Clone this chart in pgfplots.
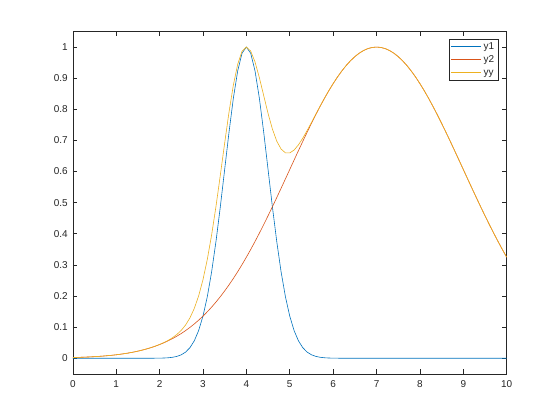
\documentclass[border=0pt]{standalone}
\usepackage{pgfplots}
\usepackage{pgfplotstable}
\pgfplotsset{compat=1.18}
\usepackage{fontspec}
\setmainfont{Liberation Sans}
\definecolor{mblue}{rgb}{0,0.447,0.741}
\definecolor{mred}{rgb}{0.85,0.325,0.098}
\definecolor{myellow}{rgb}{0.929,0.694,0.125}
\definecolor{mgray}{rgb}{0.15,0.15,0.15}
\pgfplotstableread{
x y1 y2 yy
0.0 0 0.002187 0.002187
0.1 0 0.002602 0.002602
0.2 0 0.003089 0.003089
0.3 0 0.003659 0.003659
0.4 0 0.004321 0.004321
0.5 0 0.005091 0.005091
0.6 0 0.005977 0.005977
0.7 0 0.007005 0.007005
0.8 0 0.008188 0.008188
0.9 0 0.009550 0.009550
1.0 0 0.011109 0.011109
1.1 0 0.012894 0.012894
1.2 0 0.014925 0.014925
1.3 0 0.017233 0.017233
1.4 0 0.019841 0.019841
1.5 0 0.022794 0.022794
1.6 0.00001 0.026126 0.026136
1.7 0.0000254 0.029862 0.029887
1.8 0.0000627 0.034047 0.034108
1.9 0.000148 0.038721 0.038863
2.0 0.000335 0.043937 0.044257
2.1 0.00073 0.049726 0.050420
2.2 0.00153 0.056135 0.057579
2.3 0.00309 0.063214 0.066109
2.4 0.00598 0.071003 0.076558
2.5 0.0111 0.079560 0.089777
2.6 0.0198 0.088922 0.106961
2.7 0.0340 0.099136 0.129765
2.8 0.0561 0.110251 0.160166
2.9 0.0889 0.122300 0.200327
3.0 0.1353 0.135335 0.252324
3.1 0.1979 0.149366 0.317706
3.2 0.2780 0.164446 0.396730
3.3 0.3753 0.180608 0.488126
3.4 0.4868 0.197899 0.588362
3.5 0.6065 0.216265 0.691600
3.6 0.7261 0.235746 0.790671
3.7 0.8353 0.256340 0.877519
3.8 0.9231 0.278037 0.944481
3.9 0.9802 0.300819 0.986156
4.0 1.0000 0.324652 1.000000
4.1 0.9802 0.349491 0.987120
4.2 0.9231 0.375311 0.951961
4.3 0.8353 0.402030 0.901514
4.4 0.7261 0.429557 0.843756
4.5 0.6065 0.457833 0.786657
4.6 0.4868 0.486752 0.736601
4.7 0.3753 0.516197 0.697768
4.8 0.2780 0.546074 0.672265
4.9 0.1979 0.576227 0.660092
5.0 0.1353 0.606531 0.659767
5.1 0.0889 0.636831 0.669117
5.2 0.0561 0.666977 0.685660
5.3 0.0340 0.696832 0.707140
5.4 0.0198 0.726149 0.731571
5.5 0.0111 0.754840 0.757561
5.6 0.00598 0.782705 0.784004
5.7 0.00309 0.809548 0.810137
5.8 0.00153 0.835270 0.835522
5.9 0.00073 0.859631 0.859733
6.0 0.000335 0.882497 0.882536
6.1 0.000148 0.903707 0.903720
6.2 0.0000627 0.923116 0.923120
6.3 0.0000254 0.940588 0.940590
6.4 0.00001 0.955997 0.955997
6.5 0 0.969233 0.969233
6.6 0 0.980199 0.980199
6.7 0 0.988813 0.988813
6.8 0 0.995012 0.995012
6.9 0 0.998751 0.998751
7.0 0 1.000000 1.000000
7.1 0 0.998751 0.998751
7.2 0 0.995012 0.995012
7.3 0 0.988813 0.988813
7.4 0 0.980199 0.980199
7.5 0 0.969233 0.969233
7.6 0 0.955997 0.955997
7.7 0 0.940588 0.940588
7.8 0 0.923116 0.923116
7.9 0 0.903707 0.903707
8.0 0 0.882497 0.882497
8.1 0 0.859631 0.859631
8.2 0 0.835270 0.835270
8.3 0 0.809548 0.809548
8.4 0 0.782705 0.782705
8.5 0 0.754840 0.754840
8.6 0 0.726149 0.726149
8.7 0 0.696832 0.696832
8.8 0 0.666977 0.666977
8.9 0 0.636831 0.636831
9.0 0 0.606531 0.606531
9.1 0 0.576227 0.576227
9.2 0 0.546074 0.546074
9.3 0 0.516197 0.516197
9.4 0 0.486752 0.486752
9.5 0 0.457833 0.457833
9.6 0 0.429557 0.429557
9.7 0 0.402030 0.402030
9.8 0 0.375311 0.375311
9.9 0 0.349491 0.349491
10.0 0 0.324652 0.324652
}\data
\begin{document}
\begin{tikzpicture}
\path[use as bounding box, fill=white] (-72.8bp,-46.2bp) rectangle (487.2bp,373.8bp);
\begin{axis}[
  at={(0,0)}, anchor=south west,
  scale only axis,
  width=433.9bp, height=342.3bp,
  xmin=0, xmax=10, ymin=-0.05, ymax=1.05,
  xtick={0,1,...,10},
  ytick={0,0.1,0.2,0.3,0.4,0.5,0.6,0.7,0.8,0.9,1},
  yticklabels={0,0.1,0.2,0.3,0.4,0.5,0.6,0.7,0.8,0.9,1},
  tick align=inside,
  tickpos=both,
  major tick length=4.3bp,
  axis line style={mgray, line width=0.6bp},
  every tick/.style={mgray, line width=0.6bp},
  /pgf/number format/assume math mode=true,
  tick label style={font=\fontsize{10}{12}\selectfont, text=mgray},
  x tick label style={inner sep=0pt, anchor=north, yshift=-7bp},
  y tick label style={inner sep=0pt, anchor=east, xshift=-5bp},
  legend style={at={(1,1)}, anchor=north east, xshift=-8.7bp, yshift=-7.5bp,
    draw=mgray, line width=0.5bp, fill=white,
    font=\fontsize{10}{12}\selectfont, text=mgray,
    inner xsep=1.5bp, inner ysep=1bp, row sep=0bp,
    nodes={inner xsep=2bp, inner ysep=1.5bp, text height=7.5bp, text depth=2.5bp}},
  legend cell align=left,
  legend image code/.code={\draw[#1] (0bp,0bp) -- (30bp,0bp);},
]
\addplot[mblue, line width=0.6bp] table[x=x, y=y1] {\data};
\addplot[mred, line width=0.6bp] table[x=x, y=y2] {\data};
\addplot[myellow, line width=0.6bp] table[x=x, y=yy] {\data};
\legend{y1, y2, yy}
\end{axis}
\end{tikzpicture}
\end{document}
